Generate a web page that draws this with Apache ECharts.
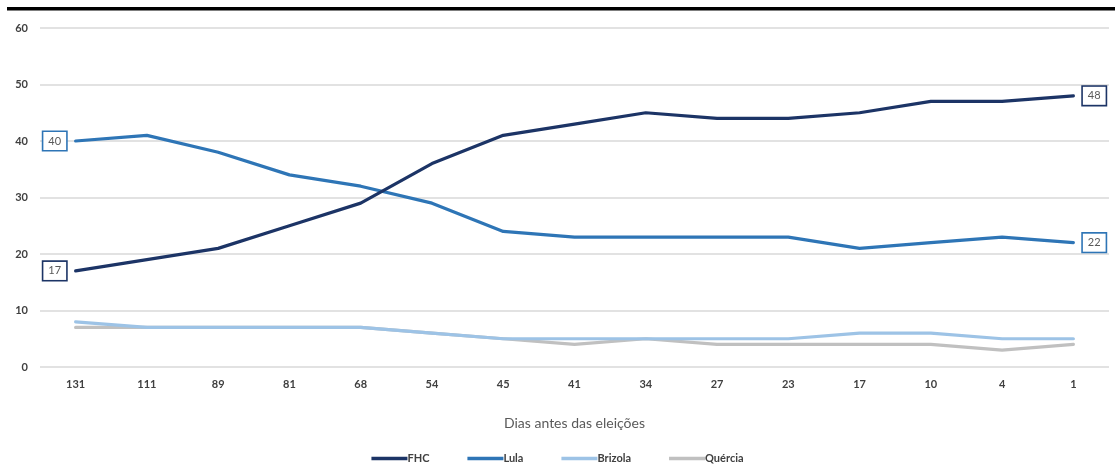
<!DOCTYPE html>
<html>
<head>
<meta charset="utf-8">
<script src="https://cdn.jsdelivr.net/npm/echarts@6/dist/echarts.min.js"></script>
<style>
  html, body { margin: 0; padding: 0; background: #fff; }
  #chart { width: 1115px; height: 465px; }
</style>
</head>
<body>
<div id="chart"></div>
<script>
// Dias antes das eleições
const categories = ['131', '111', '89', '81', '68', '54', '45', '41', '34', '27', '23', '17', '10', '4', '1'];

// Intenções de voto (%)
const fhc     = [17, 19, 21, 25, 29, 36, 41, 43, 45, 44, 44, 45, 47, 47, 48];
const lula    = [40, 41, 38, 34, 32, 29, 24, 23, 23, 23, 23, 21, 22, 23, 22];
const brizola = [8, 7, 7, 7, 7, 6, 5, 5, 5, 5, 5, 6, 6, 5, 5];
const quercia = [7, 7, 7, 7, 7, 6, 5, 4, 5, 4, 4, 4, 4, 3, 4];

const colors = { fhc: '#1c3466', lula: '#2e75b6', brizola: '#9dc3e6', quercia: '#c0c0c0' };
const FONT = 'Lato, "Open Sans", sans-serif';

// Boxed value labels at the first and last point of a series
function endMarks(data, color) {
  const last = data.length - 1;
  return {
    symbol: 'circle',
    symbolSize: 1,
    itemStyle: { color: 'rgba(0,0,0,0)' },
    silent: true,
    label: {
      show: true,
      formatter: '{c}',
      color: '#595959',
      fontFamily: FONT,
      fontSize: 11,
      backgroundColor: '#fff',
      borderColor: color,
      borderWidth: 1.6,
      padding: [4, 5, 3, 5],
      distance: 9
    },
    data: [
      { coord: [categories[0], data[0]], value: data[0], label: { position: 'left' } },
      { coord: [categories[last], data[last]], value: data[last], label: { position: 'right' } }
    ]
  };
}

function line(name, data, color, labelled) {
  const s = {
    name,
    type: 'line',
    data,
    symbol: 'none',
    smooth: false,
    lineStyle: { color, width: 3.2, cap: 'round', join: 'round' },
    itemStyle: { color },
    z: labelled ? 3 : 2
  };
  if (labelled) s.markPoint = endMarks(data, color);
  return s;
}

const chart = echarts.init(document.getElementById('chart'));
chart.setOption({
  animation: false,
  backgroundColor: '#fff',
  graphic: [{
    type: 'rect',
    shape: { x: 7, y: 7, width: 1108, height: 3.5 },
    style: { fill: '#000' }
  }],
  grid: { left: 40, right: 6, top: 28, bottom: 98, containLabel: false },
  xAxis: {
    type: 'category',
    data: categories,
    boundaryGap: true,
    name: 'Dias antes das eleições',
    nameLocation: 'middle',
    nameGap: 49,
    nameTextStyle: { color: '#595959', fontFamily: FONT, fontSize: 14 },
    axisLine: { show: false },
    axisTick: { show: false },
    axisLabel: { color: '#404040', fontFamily: FONT, fontSize: 11, fontWeight: 'bold', margin: 12 }
  },
  yAxis: {
    type: 'value',
    min: 0,
    max: 60,
    interval: 10,
    axisLine: { show: false },
    axisTick: { show: false },
    axisLabel: { color: '#404040', fontFamily: FONT, fontSize: 11, fontWeight: 'bold', margin: 12 },
    splitLine: { lineStyle: { color: '#d9d9d9', width: 1.5 } }
  },
  legend: {
    top: 448,
    left: 'center',
    itemGap: 38,
    itemWidth: 36,
    itemHeight: 3.5,
    icon: 'rect',
    textStyle: { color: '#404040', fontFamily: FONT, fontSize: 11, fontWeight: 'bold', padding: [0, 0, 0, -5] },
    data: ['FHC', 'Lula', 'Brizola', 'Quércia']
  },
  series: [
    line('Quércia', quercia, colors.quercia, false),
    line('Brizola', brizola, colors.brizola, false),
    line('Lula', lula, colors.lula, true),
    line('FHC', fhc, colors.fhc, true)
  ]
});
</script>
</body>
</html>
